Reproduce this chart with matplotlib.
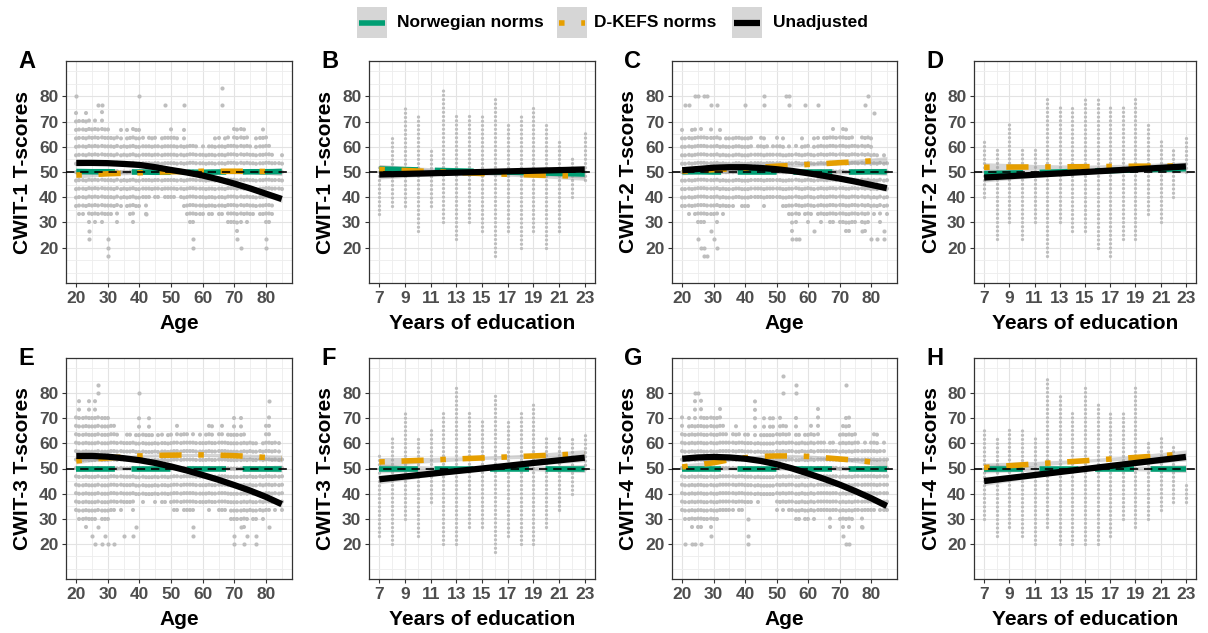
import matplotlib
matplotlib.use('Agg')
import matplotlib.pyplot as plt
from matplotlib.lines import Line2D
from matplotlib.patches import Rectangle

plt.rcParams['font.family'] = ['Liberation Sans', 'DejaVu Sans']
plt.rcParams['font.weight'] = 'bold'
plt.rcParams['axes.labelweight'] = 'bold'

# ---------------------------------------------------------------- data
ages = list(range(20, 86))
edu_years = list(range(7, 24))

# x positions of the fitted lines
fit_age = [20, 25, 30, 35, 40, 45, 50, 55, 60, 65, 70, 75, 80, 85]
fit_edu = [7, 11, 15, 19, 23]

# half width of the grey confidence ribbons
age_ci = [1.2, 0.9, 0.7, 0.6, 0.6, 0.6, 0.6, 0.6, 0.6, 0.7, 0.8, 0.9, 1.1, 1.4]
edu_ci = [1.8, 1.0, 0.6, 0.9, 1.6]

# T-score range of each column of points (main body), per panel
a_hi = [76.7, 73.3, 73.3, 73.3, 73.3, 70.0, 73.3, 70.0, 76.7, 70.0,
        70.0, 66.7, 63.3, 66.7, 70.0, 63.3, 70.0, 66.7, 70.0, 70.0,
        70.0, 66.7, 63.3, 66.7, 63.3, 66.7, 63.3, 66.7, 66.7, 66.7,
        70.0, 66.7, 63.3, 63.3, 70.0, 63.3, 63.3, 63.3, 63.3, 60.0,
        63.3, 60.0, 63.3, 63.3, 66.7, 66.7, 63.3, 63.3, 66.7, 63.3,
        70.0, 70.0, 70.0, 70.0, 66.7, 63.3, 60.0, 63.3, 66.7, 70.0,
        66.7, 63.3, 60.0, 56.7, 56.7, 56.7]
a_lo = [36.7, 33.3, 33.3, 36.7, 30.0, 33.3, 30.0, 33.3, 30.0, 33.3,
        33.3, 33.3, 36.7, 30.0, 36.7, 40.0, 36.7, 33.3, 30.0, 36.7,
        36.7, 40.0, 33.3, 40.0, 43.3, 40.0, 40.0, 43.3, 40.0, 40.0,
        40.0, 40.0, 43.3, 40.0, 36.7, 33.3, 30.0, 30.0, 33.3, 33.3,
        33.3, 36.7, 33.3, 33.3, 36.7, 33.3, 33.3, 36.7, 30.0, 30.0,
        30.0, 26.7, 30.0, 33.3, 30.0, 33.3, 33.3, 36.7, 33.3, 33.3,
        30.0, 30.0, 33.3, 40.0, 40.0, 43.3]
a_out = [(20, 80.0), (24, 23.3), (24, 26.7), (27, 76.7), (28, 76.7),
         (30, 16.7), (30, 20.0), (30, 23.3), (40, 80.0), (42, 33.3),
         (48, 76.7), (54, 76.7), (57, 20.0), (57, 23.3), (66, 83.3),
         (66, 76.7), (71, 23.3), (72, 20.0), (80, 20.0), (80, 23.3)]

c_hi = [70.0, 66.7, 66.7, 70.0, 70.0, 66.7, 70.0, 66.7, 66.7, 70.0,
        66.7, 66.7, 70.0, 63.3, 66.7, 66.7, 63.3, 66.7, 66.7, 63.3,
        66.7, 63.3, 66.7, 60.0, 63.3, 66.7, 63.3, 63.3, 60.0, 63.3,
        66.7, 63.3, 63.3, 60.0, 63.3, 60.0, 63.3, 60.0, 63.3, 63.3,
        63.3, 60.0, 63.3, 66.7, 63.3, 66.7, 66.7, 66.7, 70.0, 66.7,
        66.7, 70.0, 70.0, 66.7, 66.7, 63.3, 63.3, 66.7, 63.3, 66.7,
        66.7, 60.0, 60.0, 56.7, 60.0, 56.7]
c_lo = [36.7, 36.7, 33.3, 36.7, 33.3, 30.0, 30.0, 30.0, 33.3, 33.3,
        33.3, 30.0, 36.7, 33.3, 36.7, 36.7, 36.7, 40.0, 40.0, 36.7,
        36.7, 36.7, 40.0, 40.0, 40.0, 40.0, 36.7, 40.0, 40.0, 40.0,
        40.0, 40.0, 36.7, 36.7, 33.3, 26.7, 30.0, 33.3, 36.7, 33.3,
        30.0, 33.3, 36.7, 33.3, 30.0, 33.3, 33.3, 30.0, 30.0, 33.3,
        30.0, 30.0, 26.7, 26.7, 30.0, 30.0, 33.3, 30.0, 26.7, 30.0,
        36.7, 33.3, 36.7, 30.0, 36.7, 33.3]
c_out = [(24, 80.0), (25, 80.0), (27, 80.0), (28, 80.0), (21, 76.7),
         (22, 76.7), (29, 76.7), (31, 76.7), (40, 76.7), (46, 80.0),
         (46, 76.7), (53, 80.0), (54, 80.0), (54, 76.7), (59, 76.7),
         (63, 76.7), (79, 80.0), (78, 76.7), (81, 73.3), (25, 23.3),
         (26, 20.0), (27, 16.7), (28, 16.7), (27, 20.0), (30, 23.3),
         (31, 20.0), (29, 26.7), (55, 23.3), (56, 23.3), (57, 23.3),
         (62, 26.7), (80, 23.3), (82, 23.3), (84, 26.7), (77, 26.7),
         (84, 23.3)]

e_hi = [73.3, 76.7, 70.0, 73.3, 76.7, 73.3, 76.7, 73.3, 70.0, 70.0,
        70.0, 70.0, 70.0, 66.7, 63.3, 63.3, 66.7, 66.7, 63.3, 66.7,
        73.3, 66.7, 66.7, 70.0, 66.7, 63.3, 66.7, 66.7, 63.3, 66.7,
        66.7, 63.3, 70.0, 66.7, 66.7, 66.7, 63.3, 66.7, 63.3, 66.7,
        63.3, 66.7, 70.0, 70.0, 63.3, 66.7, 70.0, 63.3, 66.7, 66.7,
        70.0, 66.7, 70.0, 66.7, 63.3, 63.3, 60.0, 63.3, 60.0, 63.3,
        70.0, 73.3, 63.3, 63.3, 60.0, 56.7]
e_lo = [33.3, 30.0, 30.0, 26.7, 30.0, 30.0, 30.0, 33.3, 30.0, 30.0,
        30.0, 33.3, 33.3, 36.7, 33.3, 36.7, 36.7, 36.7, 33.3, 40.0,
        40.0, 36.7, 40.0, 40.0, 40.0, 36.7, 40.0, 36.7, 36.7, 40.0,
        36.7, 33.3, 33.3, 36.7, 33.3, 33.3, 33.3, 33.3, 36.7, 36.7,
        36.7, 36.7, 33.3, 36.7, 36.7, 33.3, 33.3, 33.3, 36.7, 30.0,
        30.0, 30.0, 30.0, 26.7, 30.0, 33.3, 30.0, 30.0, 33.3, 30.0,
        33.3, 33.3, 36.7, 33.3, 36.7, 33.3]
e_out = [(27, 80.0), (27, 83.3), (40, 80.0), (25, 23.3), (26, 20.0),
         (27, 26.7), (28, 20.0), (29, 23.3), (30, 20.0), (32, 20.0),
         (35, 23.3), (38, 23.3), (39, 26.7), (57, 23.3), (57, 26.7),
         (70, 20.0), (70, 23.3), (72, 26.7), (73, 20.0), (74, 23.3),
         (77, 20.0), (77, 23.3), (81, 26.7), (81, 76.7)]

g_hi = [73.3, 66.7, 70.0, 70.0, 76.7, 70.0, 80.0, 70.0, 73.3, 73.3,
        73.3, 70.0, 76.7, 70.0, 66.7, 63.3, 66.7, 70.0, 66.7, 63.3,
        66.7, 66.7, 63.3, 76.7, 63.3, 66.7, 70.0, 66.7, 73.3, 70.0,
        66.7, 73.3, 70.0, 70.0, 66.7, 63.3, 73.3, 66.7, 63.3, 66.7,
        66.7, 70.0, 66.7, 76.7, 63.3, 63.3, 60.0, 63.3, 63.3, 60.0,
        66.7, 70.0, 73.3, 73.3, 66.7, 66.7, 63.3, 60.0, 63.3, 60.0,
        63.3, 66.7, 66.7, 60.0, 63.3, 56.7]
g_lo = [33.3, 30.0, 30.0, 26.7, 30.0, 26.7, 26.7, 30.0, 30.0, 26.7,
        30.0, 30.0, 33.3, 33.3, 33.3, 33.3, 33.3, 36.7, 33.3, 33.3,
        36.7, 36.7, 36.7, 40.0, 36.7, 40.0, 40.0, 40.0, 40.0, 40.0,
        33.3, 36.7, 33.3, 36.7, 33.3, 33.3, 30.0, 30.0, 33.3, 30.0,
        30.0, 33.3, 30.0, 33.3, 33.3, 33.3, 33.3, 26.7, 33.3, 33.3,
        30.0, 26.7, 30.0, 26.7, 30.0, 33.3, 33.3, 26.7, 33.3, 33.3,
        33.3, 33.3, 36.7, 33.3, 33.3, 33.3]
g_out = [(21, 20.0), (23, 20.0), (24, 20.0), (26, 20.0), (29, 23.3),
         (24, 80.0), (25, 80.0), (41, 30.0), (41, 23.3), (41, 20.0),
         (52, 86.7), (52, 80.0), (56, 83.3), (56, 80.0), (72, 83.3),
         (71, 23.3), (72, 20.0), (73, 20.0), (77, 26.7)]

b_lo = [33.3, 36.7, 36.7, 26.7, 36.7, 30.0, 23.3, 30.0, 26.7, 16.7,
        26.7, 20.0, 26.7, 20.0, 26.7, 40.0, 46.7]
b_hi = [53.3, 63.3, 76.7, 73.3, 60.0, 83.3, 73.3, 73.3, 73.3, 80.0,
        70.0, 73.3, 76.7, 70.0, 63.3, 56.7, 66.7]
d_lo = [40.0, 23.3, 30.0, 23.3, 30.0, 16.7, 30.0, 26.7, 26.7, 20.0,
        16.7, 23.3, 23.3, 33.3, 30.0, 40.0, 50.0]
d_hi = [63.3, 60.0, 70.0, 60.0, 60.0, 80.0, 76.7, 76.7, 80.0, 80.0,
        76.7, 76.7, 80.0, 70.0, 63.3, 60.0, 63.3]
f_lo = [23.3, 20.0, 30.0, 23.3, 36.7, 20.0, 20.0, 26.7, 26.7, 16.7,
        23.3, 20.0, 20.0, 26.7, 33.3, 40.0, 50.0]
f_hi = [56.7, 63.3, 73.3, 63.3, 66.7, 73.3, 83.3, 73.3, 70.0, 80.0,
        70.0, 73.3, 76.7, 63.3, 63.3, 63.3, 63.3]
h_lo = [30.0, 23.3, 26.7, 23.3, 20.0, 26.7, 20.0, 20.0, 20.0, 20.0,
        23.3, 30.0, 26.7, 30.0, 33.3, 36.7, 36.7]
h_hi = [66.7, 63.3, 66.7, 66.7, 63.3, 86.7, 80.0, 73.3, 83.3, 76.7,
        73.3, 73.3, 83.3, 60.0, 63.3, 60.0, 43.3]

# fitted lines: Norwegian norms, D-KEFS norms, unadjusted
a_nor = [50.2, 50.1, 50.1, 50.0, 50.0, 49.9, 49.9, 49.9, 49.9, 50.0, 50.0, 50.1, 50.1, 50.2]
a_dk = [48.8, 49.0, 49.3, 49.5, 49.7, 49.9, 50.1, 50.2, 50.3, 50.3, 50.3, 50.3, 50.2, 50.1]
a_raw = [53.6, 53.6, 53.5, 53.2, 52.8, 51.9, 50.8, 49.8, 48.6, 47.1, 45.4, 43.5, 41.4, 39.3]
c_nor = [50.1, 50.1, 50.0, 50.0, 50.0, 50.0, 50.0, 50.0, 50.0, 50.0, 50.0, 50.0, 50.1, 50.1]
c_dk = [50.3, 50.6, 50.9, 51.2, 51.5, 51.9, 52.3, 52.6, 53.0, 53.3, 53.7, 54.0, 54.4, 54.7]
c_raw = [50.7, 51.2, 51.7, 51.9, 51.9, 51.6, 51.1, 50.4, 49.5, 48.5, 47.4, 46.2, 44.9, 43.6]
e_nor = [50.0, 50.0, 50.0, 50.0, 50.0, 50.0, 50.0, 50.0, 50.0, 50.0, 50.0, 50.0, 50.0, 50.0]
e_dk = [53.0, 53.7, 54.2, 54.6, 55.0, 55.2, 55.3, 55.4, 55.4, 55.3, 55.1, 54.8, 54.4, 54.0]
e_raw = [55.0, 55.0, 54.7, 54.1, 53.3, 52.2, 50.8, 49.2, 47.4, 45.5, 43.4, 41.2, 38.7, 35.8]
g_nor = [50.0, 50.0, 50.0, 50.0, 50.0, 50.0, 50.0, 50.0, 50.0, 50.0, 50.0, 50.0, 50.0, 50.0]
g_dk = [50.6, 51.5, 52.3, 53.5, 54.3, 54.8, 55.0, 55.0, 54.8, 54.3, 53.8, 53.3, 52.6, 52.0]
g_raw = [53.9, 54.4, 54.6, 54.4, 53.9, 53.0, 51.7, 50.0, 48.0, 45.9, 43.6, 41.0, 38.2, 35.1]

b_nor = [51.2, 50.7, 50.2, 49.7, 49.2]
b_dk = [51.0, 50.2, 49.4, 48.8, 48.3]
b_raw = [49.0, 49.5, 50.0, 50.5, 51.0]
d_nor = [49.3, 49.8, 50.3, 50.8, 51.3]
d_dk = [51.9, 52.0, 52.1, 52.3, 52.4]
d_raw = [47.8, 48.9, 50.0, 51.1, 52.2]
f_nor = [50.0, 50.0, 50.0, 50.0, 50.0]
f_dk = [52.6, 53.4, 54.2, 55.0, 55.9]
f_raw = [45.7, 47.9, 50.0, 52.2, 54.3]
h_nor = [50.0, 50.0, 50.0, 50.0, 50.0]
h_dk = [50.4, 51.8, 53.1, 54.4, 55.8]
h_raw = [45.0, 47.4, 49.8, 52.2, 54.6]

age_ticks = [20, 30, 40, 50, 60, 70, 80]
edu_ticks = [7, 9, 11, 13, 15, 17, 19, 21, 23]
y_ticks = [20, 30, 40, 50, 60, 70, 80]
legend_labels = ['Norwegian norms', 'D-KEFS norms', 'Unadjusted']

panels = [
    ('A', 'CWIT-1', 'age', a_lo, a_hi, a_out, a_nor, a_dk, a_raw),
    ('B', 'CWIT-1', 'edu', b_lo, b_hi, [], b_nor, b_dk, b_raw),
    ('C', 'CWIT-2', 'age', c_lo, c_hi, c_out, c_nor, c_dk, c_raw),
    ('D', 'CWIT-2', 'edu', d_lo, d_hi, [], d_nor, d_dk, d_raw),
    ('E', 'CWIT-3', 'age', e_lo, e_hi, e_out, e_nor, e_dk, e_raw),
    ('F', 'CWIT-3', 'edu', f_lo, f_hi, [], f_nor, f_dk, f_raw),
    ('G', 'CWIT-4', 'age', g_lo, g_hi, g_out, g_nor, g_dk, g_raw),
    ('H', 'CWIT-4', 'edu', h_lo, h_hi, [], h_nor, h_dk, h_raw),
]

# ---------------------------------------------------------------- style
GREEN = '#009E73'
ORANGE = '#E69F00'
POINT = '#bebebe'
RIBBON = '#999999'
KEY_BG = '#d6d6d6'
LS_NOR = (0, (7, 3))
LS_DK = (0, (1, 3, 4, 3))
W, H = 1208, 633
col_left = [66, 369, 672, 974]
col_width = [226, 226, 225, 222]
row_top = [61, 358]
row_height = [222, 221]

fig = plt.figure(figsize=(W / 100, H / 100), dpi=100)

for i, (tag, test, kind, lo, hi, out, nor, dk, raw) in enumerate(panels):
    r, c = divmod(i, 4)
    rect = [col_left[c] / W, 1 - (row_top[r] + row_height[r]) / H,
            col_width[c] / W, row_height[r] / H]
    ax = fig.add_axes(rect)
    ax.set_ylim(6, 94)
    if kind == 'age':
        xs, fx, ci = ages, fit_age, age_ci
        ax.set_xlim(16.75, 88.25)
        ax.set_xticks(age_ticks)
        ax.set_xticks([25, 35, 45, 55, 65, 75, 85], minor=True)
        ax.set_xlabel('Age', fontsize=15)
        step, dot_lw = 10 / 3, 3.0
    else:
        xs, fx, ci = edu_years, fit_edu, edu_ci
        ax.set_xlim(6.2, 23.8)
        ax.set_xticks(edu_ticks)
        ax.set_xticks([8, 10, 12, 14, 16, 18, 20, 22], minor=True)
        ax.set_xlabel('Years of education', fontsize=15)
        step, dot_lw = 5 / 3, 2.4
    ax.set_yticks(y_ticks)
    ax.set_yticks([10, 15, 25, 35, 45, 55, 65, 75, 85, 90], minor=True)
    ax.set_ylabel(test + ' T-scores', fontsize=15)
    ax.yaxis.set_label_coords(-0.15, 0.5)
    ax.xaxis.set_label_coords(0.5, -0.14)

    # columns of points: dotted vertical runs with one dot per score step
    px = ax.transData.transform((0, step))[1] - ax.transData.transform((0, 0))[1]
    gap = px * 72 / fig.dpi / dot_lw
    ax.vlines(xs, lo, hi, colors=POINT, linewidth=dot_lw,
              linestyles=[(0, (0.01, gap))], capstyle='round', zorder=1)
    if out:
        ax.scatter([p[0] for p in out], [p[1] for p in out], s=dot_lw ** 2,
                   color=POINT, linewidths=0, zorder=1)

    for yv in (nor, dk, raw):
        ax.fill_between(fx, [y - h for y, h in zip(yv, ci)],
                        [y + h for y, h in zip(yv, ci)],
                        color=RIBBON, alpha=0.4, lw=0, zorder=2)
    ax.plot(fx, nor, color=GREEN, lw=4, ls=LS_NOR, dash_capstyle='butt', zorder=3)
    ax.plot(fx, dk, color=ORANGE, lw=4, ls=LS_DK, dash_capstyle='butt', zorder=4)
    ax.axhline(50, color='black', lw=1.2, ls=(0, (5, 3.5)), zorder=5)
    ax.plot(fx, raw, color='black', lw=4.5, solid_capstyle='butt', zorder=6)

    ax.grid(which='major', color='#e3e3e3', lw=0.8)
    ax.grid(which='minor', color='#ededed', lw=0.6)
    ax.set_axisbelow(True)
    ax.tick_params(which='major', length=3, width=0.8, color='#333333',
                   labelsize=12.5, labelcolor='#4d4d4d', pad=2.5)
    ax.tick_params(which='minor', length=0)
    for s in ax.spines.values():
        s.set_color('#333333')
        s.set_linewidth(0.9)

    fig.text((col_left[c] - 48) / W, 1 - (row_top[r] + 7) / H, tag,
             fontsize=17, ha='left', va='baseline')

# legend drawn in a pixel-coordinate overlay: grey key boxes with line samples
lax = fig.add_axes([0, 0, 1, 1])
lax.set_xlim(0, W)
lax.set_ylim(H, 0)
lax.axis('off')
key_x = [357, 557, 732]
text_x = [397, 594, 773]
key_styles = [(GREEN, 4, LS_NOR), (ORANGE, 4, LS_DK), ('black', 4.5, '-')]
for kx, tx, lab, (col, lw, ls) in zip(key_x, text_x, legend_labels, key_styles):
    lax.add_patch(Rectangle((kx, 7), 30, 31, facecolor=KEY_BG, edgecolor='none'))
    lax.add_line(Line2D([kx + 2, kx + 28], [22.5, 22.5], color=col, lw=lw,
                        ls=ls, dash_capstyle='butt', solid_capstyle='butt'))
    lax.text(tx, 22.5, lab, fontsize=12.5, va='center', ha='left')

fig.savefig('out.png', dpi=100)
